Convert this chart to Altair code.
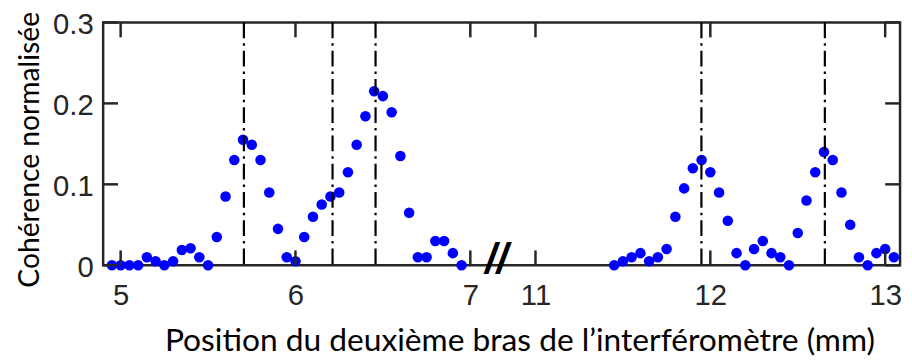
import altair as alt
import pandas as pd

# ---- data ----
left_x = [4.95, 5.00, 5.05, 5.10, 5.15, 5.20, 5.25, 5.30, 5.35, 5.40, 5.45, 5.50, 5.55, 5.60,
          5.65, 5.70, 5.75, 5.80, 5.85, 5.90, 5.95, 6.00, 6.05, 6.10, 6.15, 6.20, 6.25, 6.30,
          6.35, 6.40, 6.45, 6.50, 6.55, 6.60, 6.65, 6.70, 6.75, 6.80, 6.85, 6.90, 6.95]
left_y = [0, 0, 0, 0, 0.010, 0.005, 0, 0.005, 0.019, 0.021, 0.010, 0, 0.035, 0.085,
          0.130, 0.155, 0.149, 0.130, 0.090, 0.045, 0.010, 0.005, 0.035, 0.060, 0.075, 0.085,
          0.090, 0.115, 0.149, 0.184, 0.215, 0.209, 0.189, 0.135, 0.065, 0.010, 0.010, 0.030,
          0.030, 0.015, 0]
right_x = [11.45, 11.50, 11.55, 11.60, 11.65, 11.70, 11.75, 11.80, 11.85, 11.90, 11.95,
           12.00, 12.05, 12.10, 12.15, 12.20, 12.25, 12.30, 12.35, 12.40, 12.45, 12.50,
           12.55, 12.60, 12.65, 12.70, 12.75, 12.80, 12.85, 12.90, 12.95, 13.00, 13.05]
right_y = [0, 0.005, 0.010, 0.015, 0.005, 0.010, 0.020, 0.060, 0.095, 0.120, 0.130,
           0.115, 0.090, 0.055, 0.015, 0, 0.020, 0.030, 0.015, 0.010, 0, 0.040,
           0.080, 0.115, 0.140, 0.130, 0.090, 0.050, 0.010, 0, 0.015, 0.020, 0.010]
marker_x = [5.705, 6.212, 6.458, 11.949, 12.655]
x_tick_values = [5, 6, 7, 11, 12, 13]
y_tick_values = [0, 0.1, 0.2, 0.3]
x_range = [4.9, 13.085]
y_range = [0, 0.3]

# broken axis: right segment shifted left
BREAK_SHIFT = 3.6273
BREAK_AT = 9.0
BREAK_MARK_X = 7.15


def disp(v):
    return v - BREAK_SHIFT if v > BREAK_AT else v


pts = pd.DataFrame({"x": [disp(v) for v in left_x + right_x], "y": left_y + right_y})
vl = pd.DataFrame({"x": [disp(v) for v in marker_x]})
xt = pd.DataFrame({"x": [disp(v) for v in x_tick_values]})
yt = pd.DataFrame({"y": y_tick_values})
brk = pd.DataFrame({"x": [BREAK_MARK_X], "y": [0.0], "t": ["//"]})

W, H = 804, 245
TICK = 15
AX = "#262626"

xscale = alt.Scale(domain=[disp(x_range[0]), disp(x_range[1])], nice=False, zero=False)
yscale = alt.Scale(domain=y_range, nice=False, zero=False)

label_expr = ("datum.value > 7.2 ? format(datum.value + %s, '.0f') : format(datum.value, '.0f')"
              % BREAK_SHIFT)

points = alt.Chart(pts).mark_circle(size=113, color="#0000ff", opacity=1).encode(
    x=alt.X("x:Q", scale=xscale,
            axis=alt.Axis(values=[disp(v) for v in x_tick_values], labelExpr=label_expr,
                          title="Position du deuxième bras de l’interféromètre (mm)",
                          titleX=420, titleY=86, titleAlign="center", titleFontSize=32,
                          titleBaseline="alphabetic", titleAnchor="start")),
    y=alt.Y("y:Q", scale=yscale,
            axis=alt.Axis(values=y_tick_values,
                          labelExpr="datum.value == 0 ? '0' : format(datum.value, '.1f')",
                          labelOffset=2,
                          title="Cohérence normalisée", titleX=-65, titleY=128,
                          titleAngle=270, titleAlign="center", titleBaseline="alphabetic",
                          titleAnchor="start", titleFontSize=28.5)),
)

vlines = alt.Chart(vl).mark_rule(color="black", strokeWidth=2.2,
                                 strokeDash=[16, 5, 2.5, 5]).encode(
    x=alt.X("x:Q", scale=xscale))

ticks_bottom = alt.Chart(xt).mark_rule(color=AX, strokeWidth=2.5).encode(
    x=alt.X("x:Q", scale=xscale), y=alt.value(H - TICK), y2=alt.value(H))
ticks_top = alt.Chart(xt).mark_rule(color=AX, strokeWidth=2.5).encode(
    x=alt.X("x:Q", scale=xscale), y=alt.value(0), y2=alt.value(TICK))
ticks_left = alt.Chart(yt).mark_rule(color=AX, strokeWidth=2.5).encode(
    y=alt.Y("y:Q", scale=yscale), x=alt.value(0), x2=alt.value(TICK))
ticks_right = alt.Chart(yt).mark_rule(color=AX, strokeWidth=2.5).encode(
    y=alt.Y("y:Q", scale=yscale), x=alt.value(W - TICK), x2=alt.value(W))

brk_mark = alt.Chart(brk).mark_text(font="Liberation Sans", fontSize=42, fontWeight="bold",
                                    fontStyle="italic", color="black", baseline="middle",
                                    align="center", dy=-5).encode(
    x=alt.X("x:Q", scale=xscale), y=alt.Y("y:Q", scale=yscale),
    text="t:N")

chart = alt.layer(points, vlines, ticks_bottom, ticks_top, ticks_left, ticks_right,
                  brk_mark).properties(
    width=W, height=H,
    autosize=alt.AutoSizeParams(type="none"),
    padding={"left": 96, "top": 13, "right": 4, "bottom": 96},
).configure_view(
    stroke=AX, strokeWidth=2.5
).configure_axis(
    grid=False, domain=False, ticks=False,
    labelFont="Liberation Sans", labelFontSize=29.5, labelColor=AX,
    titleFont="Lato", titleFontSize=30, titleFontWeight="normal", titleColor="black",
).configure_axisX(
    labelPadding=17, labelFlush=False,
).configure_axisY(
    labelPadding=10,
)

chart.save("out.html", embed_options={"renderer": "svg", "actions": False})
